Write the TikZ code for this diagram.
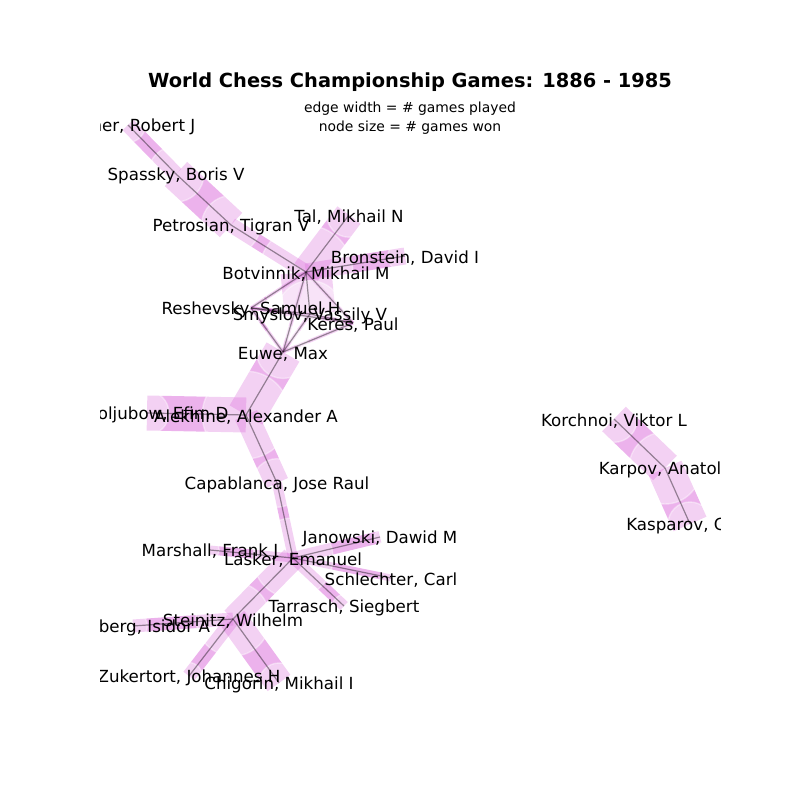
\documentclass[tikz,border=0pt]{standalone}
\usepackage{fontspec}
\setmainfont{DejaVu Sans}
\usepackage{xcolor}
\definecolor{game-mag}{rgb}{0.75,0,0.75}

\tikzset{
  game/.style={draw=game-mag, draw opacity=0.3, line cap=butt},
  wins/.style={fill=white, fill opacity=0.4, draw=white, draw opacity=0.4, line width=1.39pt},
  link/.style={draw=black, draw opacity=0.4, line width=1.2pt},
  player/.style={font=\fontsize{16.67}{20}\selectfont, inner sep=0pt, yshift=-2pt}
}

\begin{document}
\begin{tikzpicture}[x=1pt, y=-1pt]
  \useasboundingbox (0,0) rectangle (800,800);

  \node[font=\fontsize{19.4}{23}\selectfont\bfseries, inner sep=0pt] (title) at (410,82)
    {World Chess Championship Games: 1886 - 1985};
  \node[font=\fontsize{13.9}{16}\selectfont, inner sep=0pt] (sub1) at (410,109)
    {edge width = \# games played};
  \node[font=\fontsize{13.9}{16}\selectfont, inner sep=0pt] (sub2) at (410,128)
    {node size = \# games won};

  \begin{scope}
    \clip (100,96) rectangle (720,704);

    % player positions
    \coordinate (fischer) at (128,125);
    \coordinate (spassky) at (176,174);
    \coordinate (petrosian) at (231,225);
    \coordinate (tal) at (349,215);
    \coordinate (bronstein) at (405,256);
    \coordinate (botvinnik) at (306,272);
    \coordinate (reshevsky) at (251,308);
    \coordinate (smyslov) at (310,314);
    \coordinate (keres) at (353,323);
    \coordinate (euwe) at (283,352);
    \coordinate (bogoljubow) at (147,413);
    \coordinate (alekhine) at (246,415);
    \coordinate (capablanca) at (277,483);
    \coordinate (lasker) at (293,558);
    \coordinate (marshall) at (210,550);
    \coordinate (janowski) at (380,537);
    \coordinate (schlechter) at (391,578);
    \coordinate (tarrasch) at (344,606);
    \coordinate (steinitz) at (233,619);
    \coordinate (gunsberg) at (133,626);
    \coordinate (zukertort) at (189,676);
    \coordinate (chigorin) at (279,683);
    \coordinate (korchnoi) at (614,419);
    \coordinate (karpov) at (665,468);
    \coordinate (kasparov) at (690,524);

    % games played
    \foreach \a/\b/\w in {fischer/spassky/15, spassky/petrosian/33,
        petrosian/botvinnik/15, botvinnik/tal/29, botvinnik/bronstein/17,
        botvinnik/smyslov/51, botvinnik/keres/3.5, botvinnik/reshevsky/3.5,
        botvinnik/euwe/3.5, smyslov/keres/3.5, smyslov/reshevsky/3.5,
        smyslov/euwe/3.5, keres/reshevsky/3.5, keres/euwe/3.5,
        reshevsky/euwe/3.5, euwe/alekhine/38, alekhine/bogoljubow/35,
        alekhine/capablanca/24, capablanca/lasker/10, lasker/marshall/9,
        lasker/tarrasch/11, lasker/schlechter/7, lasker/janowski/12,
        lasker/steinitz/24, steinitz/zukertort/14, steinitz/chigorin/28,
        steinitz/gunsberg/13, korchnoi/karpov/34, karpov/kasparov/36}
      \draw[game, line width=\w pt] (\a) -- (\b);

    % games won
    \foreach \p/\r in {fischer/17.4, spassky/28, petrosian/29.3, tal/22.2,
        bronstein/17, botvinnik/46.8, reshevsky/15.9, smyslov/33.3,
        keres/15.9, euwe/26.4, bogoljubow/22, alekhine/43.8,
        capablanca/24.3, lasker/40, marshall/9.2, janowski/6,
        schlechter/11, tarrasch/11.5, steinitz/37, gunsberg/14.3,
        zukertort/13.4, chigorin/20, korchnoi/23.3, karpov/36, kasparov/22}
      \draw[wins] (\p) circle[radius=\r pt];

    \foreach \a/\b in {fischer/spassky, spassky/petrosian, petrosian/botvinnik,
        botvinnik/tal, botvinnik/bronstein, botvinnik/smyslov, botvinnik/keres,
        botvinnik/reshevsky, botvinnik/euwe, smyslov/keres, smyslov/reshevsky,
        smyslov/euwe, keres/reshevsky, keres/euwe, reshevsky/euwe,
        euwe/alekhine, alekhine/bogoljubow, alekhine/capablanca,
        capablanca/lasker, lasker/marshall, lasker/tarrasch, lasker/schlechter,
        lasker/janowski, lasker/steinitz, steinitz/zukertort, steinitz/chigorin,
        steinitz/gunsberg, korchnoi/karpov, karpov/kasparov}
      \draw[link] (\a) -- (\b);

    \node[player] (fischer-l) at (fischer) {Fischer, Robert J};
    \node[player] (spassky-l) at (spassky) {Spassky, Boris V};
    \node[player] (petrosian-l) at (petrosian) {Petrosian, Tigran V};
    \node[player] (tal-l) at (tal) {Tal, Mikhail N};
    \node[player] (bronstein-l) at (bronstein) {Bronstein, David I};
    \node[player] (botvinnik-l) at (botvinnik) {Botvinnik, Mikhail M};
    \node[player] (reshevsky-l) at (reshevsky) {Reshevsky, Samuel H};
    \node[player] (smyslov-l) at (smyslov) {Smyslov, Vassily V};
    \node[player] (keres-l) at (keres) {Keres, Paul};
    \node[player] (euwe-l) at (euwe) {Euwe, Max};
    \node[player] (bogoljubow-l) at (bogoljubow) {Bogoljubow, Efim D};
    \node[player] (alekhine-l) at (alekhine) {Alekhine, Alexander A};
    \node[player] (capablanca-l) at (capablanca) {Capablanca, Jose Raul};
    \node[player] (lasker-l) at (lasker) {Lasker, Emanuel};
    \node[player] (marshall-l) at (marshall) {Marshall, Frank J};
    \node[player] (janowski-l) at (janowski) {Janowski, Dawid M};
    \node[player] (schlechter-l) at (schlechter) {Schlechter, Carl};
    \node[player] (tarrasch-l) at (tarrasch) {Tarrasch, Siegbert};
    \node[player] (steinitz-l) at (steinitz) {Steinitz, Wilhelm};
    \node[player] (gunsberg-l) at (gunsberg) {Gunsberg, Isidor A};
    \node[player] (zukertort-l) at (zukertort) {Zukertort, Johannes H};
    \node[player] (chigorin-l) at (chigorin) {Chigorin, Mikhail I};
    \node[player] (korchnoi-l) at (korchnoi) {Korchnoi, Viktor L};
    \node[player] (karpov-l) at (karpov) {Karpov, Anatoly};
    \node[player] (kasparov-l) at (kasparov) {Kasparov, Gary};
  \end{scope}
\end{tikzpicture}
\end{document}
